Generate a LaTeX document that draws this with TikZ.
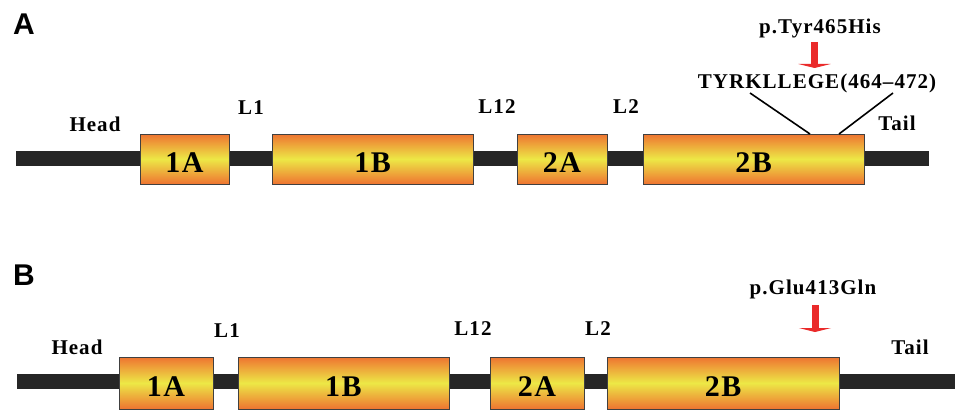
\documentclass[tikz,border=0pt]{standalone}
\usepackage{fontspec}
\setmainfont{Liberation Serif}[LetterSpace=5]
\newfontfamily\panelfont{Liberation Sans}
\usetikzlibrary{arrows.meta}
\definecolor{domorange}{HTML}{EE7431}
\definecolor{domyellow}{HTML}{EDE846}
\definecolor{chaingrey}{HTML}{262626}
\definecolor{mutred}{HTML}{EA2A2A}
\begin{document}
\begin{tikzpicture}[x=1pt,y=-1pt,
    dom/.style={draw=black!75,line width=.8pt,top color=domorange,bottom color=domorange,middle color=domyellow,inner sep=0pt,text height=26pt,text depth=0pt,font=\fontsize{30}{30}\selectfont\bfseries},
    lbl/.style={font=\fontsize{21}{21}\selectfont\bfseries},
    panel/.style={font=\fontsize{30}{30}\selectfont\panelfont\bfseries},
    chain/.style={chaingrey,line width=15pt},
    mut/.style={mutred,line width=7pt,-{Triangle[width=32pt,length=4pt]}},
    link/.style={line width=1.6pt}]
    \useasboundingbox (0,0) rectangle (955,412);
    \node[panel] (pA) at (24,24) {A};
    \coordinate (headendA) at (16,158);
    \coordinate (tailendA) at (929,158);
    \draw[chain] (headendA) -- (tailendA);
    \node[dom,minimum width=89pt,minimum height=50pt] (a1A) at (184.5,159) {1A};
    \node[dom,minimum width=201pt,minimum height=50pt] (a1B) at (372.5,159) {1B};
    \node[dom,minimum width=90pt,minimum height=50pt] (a2A) at (562,159) {2A};
    \node[dom,minimum width=221pt,minimum height=50pt] (a2B) at (753.5,159) {2B};
    \node[lbl] (aHead) at (95,124) {Head};
    \node[lbl] (aL1) at (251,108) {L1};
    \node[lbl] (aL12) at (497,107) {L12};
    \node[lbl] (aL2) at (626,107) {L2};
    \node[lbl] (aTail) at (897,123) {Tail};
    \node[lbl] (aMotif) at (817,83) {TYRKLLEGE(464–472)};
    \node[lbl] (aMut) at (820,28) {p.Tyr465His};
    \coordinate (aArrow) at (814.5,42);
    \coordinate (aTip) at (814.5,68);
    \draw[mut] (aArrow) -- (aTip);
    \coordinate (aK1) at (750,93);
    \coordinate (aK2) at (810,134);
    \coordinate (aK3) at (893,93);
    \coordinate (aK4) at (839,134);
    \draw[link] (aK1) -- (aK2);
    \draw[link] (aK3) -- (aK4);
    \node[panel] (pB) at (24,275) {B};
    \coordinate (headendB) at (17,381);
    \coordinate (tailendB) at (955,381);
    \draw[chain] (headendB) -- (tailendB);
    \node[dom,minimum width=94pt,minimum height=52pt] (b1A) at (166,383) {1A};
    \node[dom,minimum width=211pt,minimum height=52pt] (b1B) at (343.5,383) {1B};
    \node[dom,minimum width=94pt,minimum height=52pt] (b2A) at (537,383) {2A};
    \node[dom,minimum width=232pt,minimum height=52pt] (b2B) at (723,383) {2B};
    \node[lbl] (bHead) at (77,347) {Head};
    \node[lbl] (bL1) at (227,331) {L1};
    \node[lbl] (bL12) at (473,329) {L12};
    \node[lbl] (bL2) at (598,329) {L2};
    \node[lbl] (bTail) at (910,347) {Tail};
    \node[lbl] (bMut) at (813,289) {p.Glu413Gln};
    \coordinate (bArrow) at (815,305);
    \coordinate (bTip) at (815,332);
    \draw[mut] (bArrow) -- (bTip);
\end{tikzpicture}
\end{document}
